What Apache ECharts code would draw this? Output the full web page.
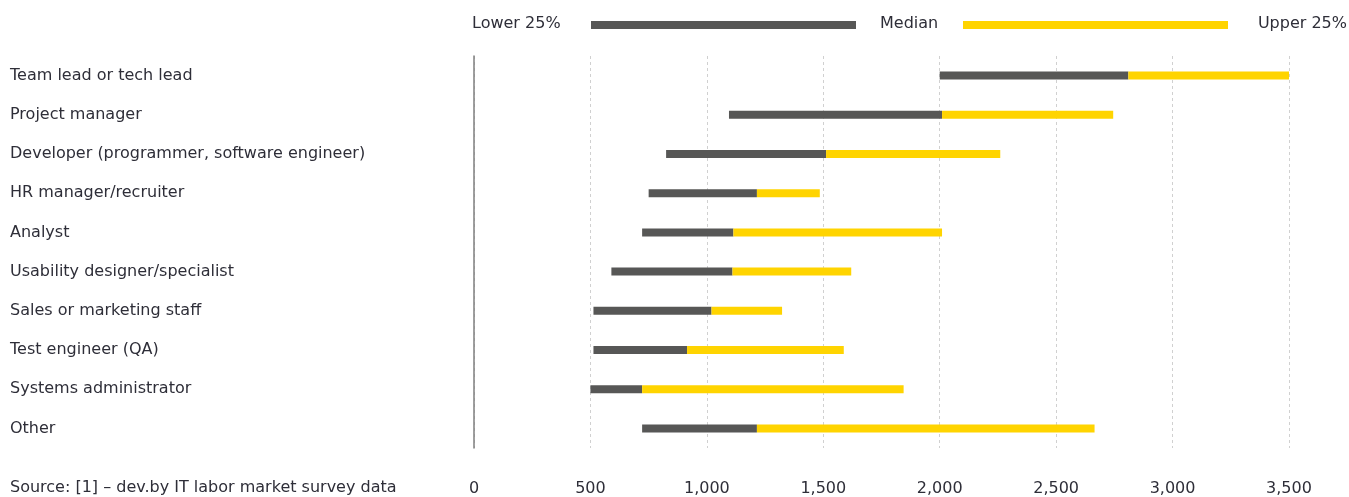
<!DOCTYPE html>
<html>
<head>
<meta charset="utf-8">
<script src="https://cdn.jsdelivr.net/npm/echarts@6/dist/echarts.min.js"></script>
<style>
html,body{margin:0;padding:0;background:#fff;}
#chart{width:1349px;height:497px;}
</style>
</head>
<body>
<div id="chart"></div>
<script>
const categories = [
  'Team lead or tech lead',
  'Project manager',
  'Developer (programmer, software engineer)',
  'HR manager/recruiter',
  'Analyst',
  'Usability designer/specialist',
  'Sales or marketing staff',
  'Test engineer (QA)',
  'Systems administrator',
  'Other'
];
const lower25 = [2000, 1095, 825, 750, 722, 590, 513, 513, 500, 722];
const median  = [2810, 2010, 1512, 1215, 1114, 1110, 1020, 915, 722, 1215];
const upper25 = [3500, 2745, 2260, 1485, 2010, 1620, 1323, 1588, 1845, 2665];
const xTicks = [0, 500, 1000, 1500, 2000, 2500, 3000, 3500];
const legendLabels = ['Lower 25%', 'Median', 'Upper 25%'];
const sourceText = 'Source: [1] \u2013 dev.by IT labor market survey data';

const GRAY = '#575756';
const YELLOW = '#FFD400';
const TEXT = '#2e2e38';
const FONT = 'DejaVu Sans';

const chart = echarts.init(document.getElementById('chart'));
const lowerToMedian = median.map((m, i) => m - lower25[i]);
const medianToUpper = upper25.map((u, i) => u - median[i]);

chart.setOption({
  animation: false,
  textStyle: { fontFamily: FONT },
  grid: { left: 474, right: 60, top: 56, bottom: 48 },
  xAxis: {
    type: 'value',
    min: xTicks[0],
    max: xTicks[xTicks.length - 1],
    interval: 500,
    axisLine: { show: false },
    axisTick: { show: false },
    axisLabel: {
      color: TEXT, fontSize: 16, fontFamily: FONT, margin: 33,
      formatter: v => v.toLocaleString('en-US')
    },
    splitLine: { show: true, lineStyle: { color: '#d0d0d0', type: [3, 3], width: 1 } }
  },
  yAxis: {
    type: 'category',
    data: categories,
    inverse: true,
    axisLine: { show: true, lineStyle: { color: '#7f7f7f', width: 1.5 } },
    axisTick: { show: false },
    axisLabel: { color: TEXT, fontSize: 16, fontFamily: FONT, align: 'left', margin: 464 }
  },
  series: [
    {
      name: 'base', type: 'bar', stack: 'r', data: lower25, barWidth: 8,
      itemStyle: { color: 'transparent' }, silent: true
    },
    {
      name: 'Lower 25% to Median', type: 'bar', stack: 'r', data: lowerToMedian, barWidth: 8,
      itemStyle: { color: GRAY }
    },
    {
      name: 'Median to Upper 25%', type: 'bar', stack: 'r', data: medianToUpper, barWidth: 8,
      itemStyle: { color: YELLOW }
    }
  ],
  graphic: [
    { type: 'text', left: 472, top: 16, style: { text: legendLabels[0], fill: TEXT, font: '16px "' + FONT + '"' } },
    { type: 'rect', shape: { x: 591, y: 21, width: 265, height: 8 }, style: { fill: GRAY } },
    { type: 'text', left: 880, top: 16, style: { text: legendLabels[1], fill: TEXT, font: '16px "' + FONT + '"' } },
    { type: 'rect', shape: { x: 963, y: 21, width: 265, height: 8 }, style: { fill: YELLOW } },
    { type: 'text', right: 2, top: 16, style: { text: legendLabels[2], fill: TEXT, font: '16px "' + FONT + '"' } },
    { type: 'text', left: 10, top: 480, style: { text: sourceText, fill: TEXT, font: '16px "' + FONT + '"' } }
  ]
});
</script>
</body>
</html>
